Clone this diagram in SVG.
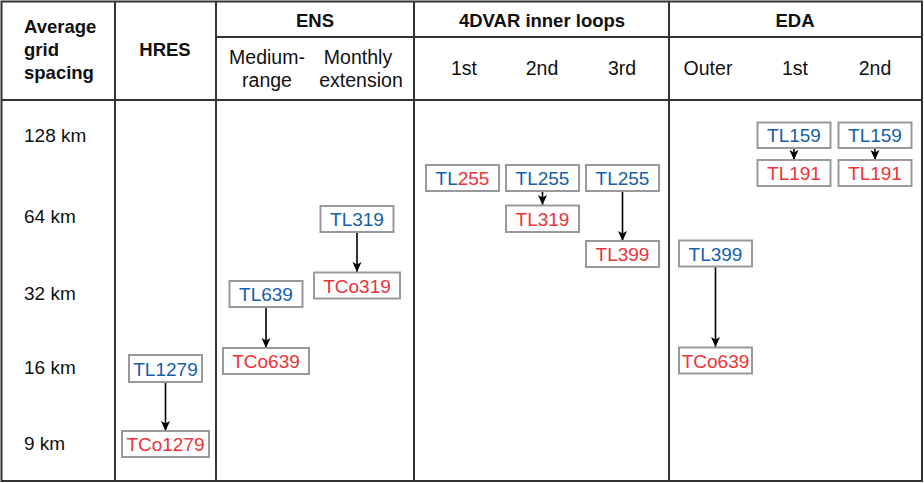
<svg xmlns="http://www.w3.org/2000/svg" width="924" height="483" viewBox="0 0 924 483">
<style>
text{font-family:"Liberation Sans",Arial,sans-serif;fill:#111}
.h{font-weight:bold;font-size:18.5px}
.s{font-size:19.5px}
.r{font-size:19px}
.c{text-anchor:middle}
.grid{stroke:#333;stroke-width:2;fill:none}
.box{fill:#fff;stroke:#999;stroke-width:2}
.bt{font-size:19px;text-anchor:middle}
.b{fill:#1560a8}
.d{fill:#ee3338}
.conn{stroke:#000;stroke-width:1.6;fill:none;marker-end:url(#ah)}
</style>
<defs>
<marker id="ah" viewBox="0 0 10 10" refX="10" refY="5" markerWidth="10" markerHeight="10" markerUnits="userSpaceOnUse" orient="auto">
<path d="M0,0.5 L10,5 L0,9.5 L2.5,5 Z" fill="#000"/>
</marker>
</defs>
<rect width="924" height="483" fill="#fff"/>
<g id="table">
<rect class="grid" x="1.5" y="1.5" width="920.5" height="479.5"/>
<line class="grid" x1="1" y1="100" x2="922" y2="100"/>
<line class="grid" x1="216" y1="37" x2="922" y2="37"/>
<line class="grid" x1="115" y1="1" x2="115" y2="481"/>
<line class="grid" x1="216" y1="1" x2="216" y2="481"/>
<line class="grid" x1="414" y1="1" x2="414" y2="481"/>
<line class="grid" x1="669" y1="1" x2="669" y2="481"/>
</g>
<g id="headers">
<text class="h" x="24" y="33">Average</text>
<text class="h" x="24" y="56">grid</text>
<text class="h" x="24" y="79">spacing</text>
<text class="h c" x="165" y="56">HRES</text>
<text class="h c" x="315" y="27">ENS</text>
<text class="s c" x="267" y="64">Medium-</text>
<text class="s c" x="267" y="87">range</text>
<text class="s c" x="358" y="64">Monthly</text>
<text class="s c" x="361" y="87">extension</text>
<text class="h c" x="542" y="27">4DVAR inner loops</text>
<text class="s c" x="464" y="75">1st</text>
<text class="s c" x="542" y="75">2nd</text>
<text class="s c" x="622" y="75">3rd</text>
<text class="h c" x="795" y="27">EDA</text>
<text class="s c" x="708" y="75">Outer</text>
<text class="s c" x="795" y="75">1st</text>
<text class="s c" x="875" y="75">2nd</text>
</g>
<g id="rows">
<text class="r" x="24" y="142">128 km</text>
<text class="r" x="24" y="223">64 km</text>
<text class="r" x="24" y="300">32 km</text>
<text class="r" x="24" y="374">16 km</text>
<text class="r" x="24" y="450">9 km</text>
</g>
<g id="connectors">
<line class="conn" x1="165.5" y1="382" x2="165.5" y2="431"/>
<line class="conn" x1="266" y1="307" x2="266" y2="348"/>
<line class="conn" x1="357" y1="232" x2="357" y2="272"/>
<line class="conn" x1="542.5" y1="191" x2="542.5" y2="205"/>
<line class="conn" x1="622.5" y1="191" x2="622.5" y2="241"/>
<line class="conn" x1="715.5" y1="266" x2="715.5" y2="347"/>
<line class="conn" x1="794" y1="148" x2="794" y2="160"/>
<line class="conn" x1="875" y1="148" x2="875" y2="160"/>
</g>
<g id="hres-tl1279"><rect class="box" x="129" y="355" width="73" height="27"/><text class="bt b" x="165.5" y="375.5">TL1279</text></g>
<g id="hres-tco1279"><rect class="box" x="122" y="431" width="87" height="26"/><text class="bt d" x="165.5" y="451">TCo1279</text></g>
<g id="ens-tl639"><rect class="box" x="229.5" y="281" width="73" height="26"/><text class="bt b" x="266" y="301">TL639</text></g>
<g id="ens-tco639"><rect class="box" x="223" y="348" width="86" height="26"/><text class="bt d" x="266" y="368">TCo639</text></g>
<g id="ens-tl319"><rect class="box" x="320.5" y="206" width="73" height="26"/><text class="bt b" x="357" y="226">TL319</text></g>
<g id="ens-tco319"><rect class="box" x="314" y="272.5" width="86" height="26"/><text class="bt d" x="357" y="292.5">TCo319</text></g>
<g id="var-1st"><rect class="box" x="426" y="165" width="73" height="26"/><text class="bt" x="462.5" y="185"><tspan class="b">TL</tspan><tspan class="d">255</tspan></text></g>
<g id="var-2nd-tl255"><rect class="box" x="506" y="165" width="73" height="26"/><text class="bt b" x="542.5" y="185">TL255</text></g>
<g id="var-2nd-tl319"><rect class="box" x="506" y="205.5" width="73" height="26.5"/><text class="bt d" x="542.5" y="226">TL319</text></g>
<g id="var-3rd-tl255"><rect class="box" x="586" y="165" width="73" height="26"/><text class="bt b" x="622.5" y="185">TL255</text></g>
<g id="var-3rd-tl399"><rect class="box" x="586" y="241" width="73" height="26"/><text class="bt d" x="622.5" y="261">TL399</text></g>
<g id="eda-outer-tl399"><rect class="box" x="679" y="240.5" width="73" height="26"/><text class="bt b" x="715.5" y="260.5">TL399</text></g>
<g id="eda-outer-tco639"><rect class="box" x="679" y="347.5" width="73" height="26"/><text class="bt d" x="715.5" y="367.5">TCo639</text></g>
<g id="eda-1st-tl159"><rect class="box" x="757.5" y="122.5" width="73" height="25.5"/><text class="bt b" x="794" y="142">TL159</text></g>
<g id="eda-1st-tl191"><rect class="box" x="757.5" y="160" width="73" height="26"/><text class="bt d" x="794" y="180">TL191</text></g>
<g id="eda-2nd-tl159"><rect class="box" x="838.5" y="122.5" width="73" height="25.5"/><text class="bt b" x="875" y="142">TL159</text></g>
<g id="eda-2nd-tl191"><rect class="box" x="838.5" y="160" width="73" height="26"/><text class="bt d" x="875" y="180">TL191</text></g>
</svg>
